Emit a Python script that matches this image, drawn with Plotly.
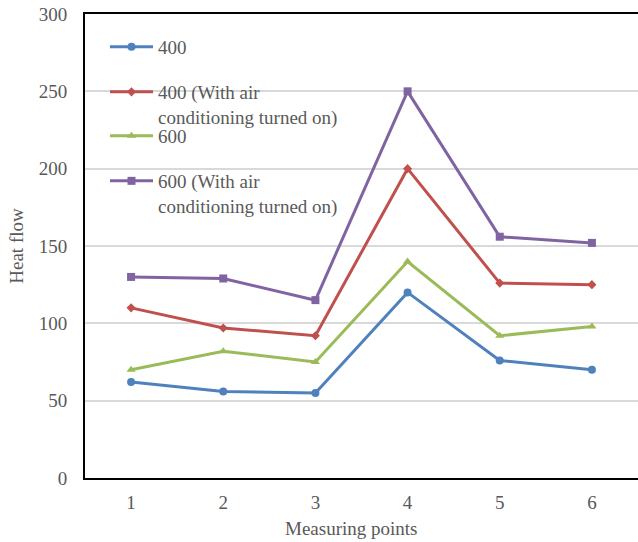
import plotly.graph_objects as go

# Measuring points and heat flow readings
points = [1, 2, 3, 4, 5, 6]
flow_400 = [62, 56, 55, 120, 76, 70]
flow_400_ac = [110, 97, 92, 200, 126, 125]
flow_600 = [70, 82, 75, 140, 92, 98]
flow_600_ac = [130, 129, 115, 250, 156, 152]

series_names = [
    "400",
    "400 (With air<br>conditioning turned on)",
    "600",
    "600 (With air<br>conditioning turned on)",
]
colors = ["#4F81BD", "#C0504D", "#9BBB59", "#8064A2"]
symbols = ["circle", "diamond", "triangle-up", "square"]
marker_sizes = [8, 7, 8, 8]
legend_ids = ["legend", "legend2", "legend3", "legend4"]

FONT = "Liberation Serif, Times New Roman, serif"
GRAY = "#595959"

fig = go.Figure()
for vals, name, col, sym, ms, lg in zip(
    [flow_400, flow_400_ac, flow_600, flow_600_ac],
    series_names, colors, symbols, marker_sizes, legend_ids,
):
    fig.add_trace(go.Scatter(
        x=points, y=vals, name=name, mode="lines+markers",
        line=dict(color=col, width=3),
        marker=dict(color=col, symbol=sym, size=ms),
        legend=lg,
    ))

W, H = 638, 542
ML, MR, MT, MB = 85, 0, 14, 64
pw, ph = W - ML - MR, H - MT - MB

def legend_at(px, py):
    return dict(
        x=(px - ML) / pw, y=1 - (py - MT) / ph,
        xanchor="left", yanchor="top",
        bgcolor="rgba(0,0,0,0)", borderwidth=0,
        font=dict(family=FONT, size=19, color=GRAY),
        valign="top", itemclick=False, itemdoubleclick=False,
        itemwidth=43, tracegroupgap=0,
    )

# four single-entry legends, evenly spaced down the upper-left corner
legend_tops = [28, 73, 117, 162]
layout_legends = {lg: legend_at(105, top) for lg, top in zip(legend_ids, legend_tops)}

fig.update_layout(
    width=W, height=H,
    margin=dict(l=ML, r=MR, t=MT, b=MB),
    paper_bgcolor="white", plot_bgcolor="white",
    font=dict(family=FONT, size=19, color=GRAY),
    showlegend=True,
    xaxis=dict(
        range=[0.5, 6.5], tickvals=points, ticktext=[str(p) for p in points],
        showgrid=False, zeroline=False,
        showline=True, linecolor="black", linewidth=2, mirror=True,
        ticks="", ticklabelstandoff=6,
        tickfont=dict(family=FONT, size=19, color=GRAY),
    ),
    yaxis=dict(
        range=[0, 300], dtick=50,
        showgrid=True, gridcolor="#D9D9D9", gridwidth=1.5,
        zeroline=False,
        showline=True, linecolor="black", linewidth=2,
        ticks="", ticklabelstandoff=12,
        title=dict(text="Heat flow", standoff=10,
                   font=dict(family=FONT, size=19, color=GRAY)),
        tickfont=dict(family=FONT, size=19, color=GRAY),
    ),
    annotations=[dict(
        text="Measuring points", xref="paper", yref="paper",
        x=(351 - ML) / pw, y=-(528 - MT - ph) / ph,
        xanchor="center", yanchor="middle", showarrow=False,
        font=dict(family=FONT, size=19, color=GRAY),
    )],
    **layout_legends,
)

fig.write_html("out.html")
